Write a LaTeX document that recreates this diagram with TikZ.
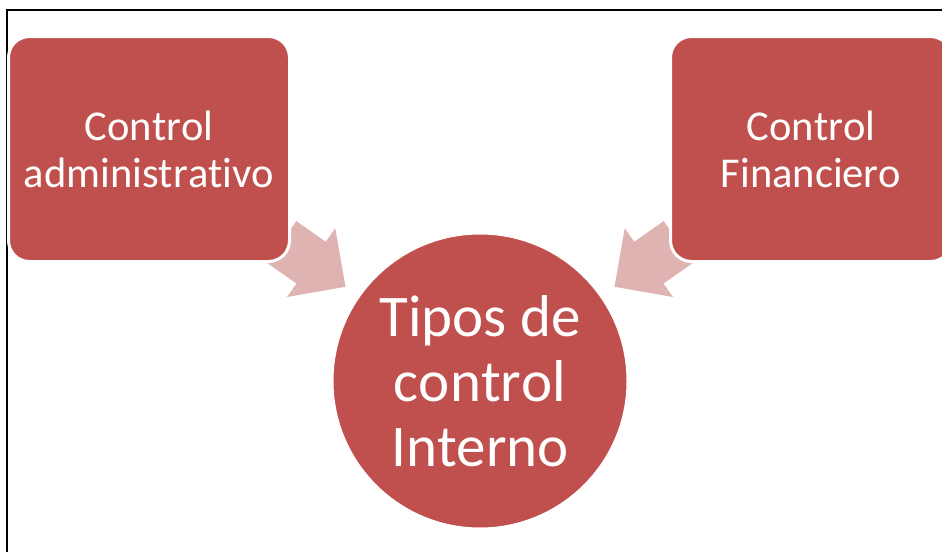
\documentclass[tikz,border=0pt]{standalone}
\usepackage{fontspec}
\setmainfont{Carlito}[Ligatures=NoCommon, Kerning=Off]
\usetikzlibrary{calc,backgrounds}
\definecolor{boxred}{HTML}{C0504D}
\definecolor{arrowpink}{HTML}{DEB3B2}
\begin{document}
\begin{tikzpicture}[x=1pt,y=-1pt,
  box/.style={rectangle, rounded corners=21pt, fill=boxred, draw=white, line width=3pt,
    minimum width=281pt, minimum height=225pt, text=white,
    font=\fontsize{42.5}{47}\selectfont, align=center, inner sep=0pt},
  hub/.style={circle, fill=boxred, draw=white, line width=1pt, minimum size=294pt,
    text=white, font=\fontsize{59}{65}\selectfont, align=center, inner sep=0pt},
  flow/.style={fill=arrowpink},
  frameline/.style={line width=2pt, black}]
\clip (0,0) rectangle (942,552);
\draw[frameline] (6.5,552) -- (6.5,9.5) -- (942,9.5);

\node[box] (adm) at (149,149) {Control\\administrativo};
\node[box] (fin) at (811,149) {Control\\Financiero};
\node[hub] (hub) at (480,381) {Tipos de\\control\\Interno};

\begin{scope}[on background layer]
  % left arrow
  \coordinate (lt) at ($(adm.center)!162pt!(hub.center)$);
  \coordinate (lb) at ($(adm.center)!198pt!(hub.center)$);
  \coordinate (lp) at ($(adm.center)!240pt!(hub.center)$);
  \fill[flow] ($(lt)!25.5pt!90:(hub.center)$) -- ($(lb)!25.5pt!90:(hub.center)$)
    -- ($(lb)!42pt!90:(hub.center)$) -- (lp) -- ($(lb)!42pt!-90:(hub.center)$)
    -- ($(lb)!25.5pt!-90:(hub.center)$) -- ($(lt)!25.5pt!-90:(hub.center)$) -- cycle;
  % right arrow
  \coordinate (rt) at ($(fin.center)!162pt!(hub.center)$);
  \coordinate (rb) at ($(fin.center)!198pt!(hub.center)$);
  \coordinate (rp) at ($(fin.center)!240pt!(hub.center)$);
  \fill[flow] ($(rt)!25.5pt!90:(hub.center)$) -- ($(rb)!25.5pt!90:(hub.center)$)
    -- ($(rb)!42pt!90:(hub.center)$) -- (rp) -- ($(rb)!42pt!-90:(hub.center)$)
    -- ($(rb)!25.5pt!-90:(hub.center)$) -- ($(rt)!25.5pt!-90:(hub.center)$) -- cycle;
\end{scope}
\end{tikzpicture}
\end{document}
